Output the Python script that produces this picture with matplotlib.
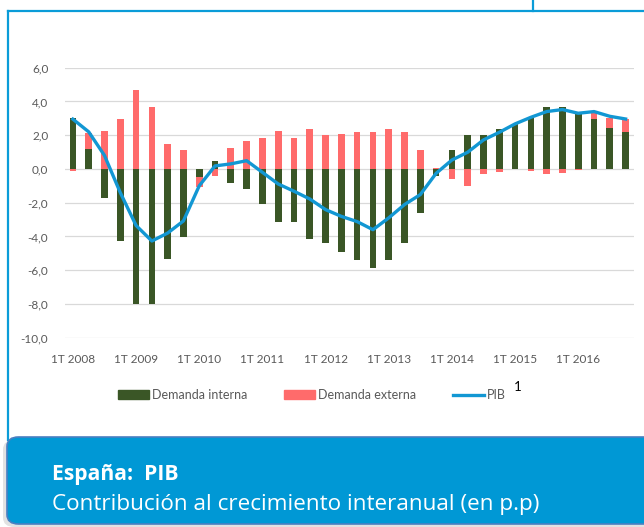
import matplotlib
matplotlib.use('Agg')
import matplotlib.pyplot as plt
import numpy as np
from matplotlib.patches import FancyBboxPatch, Patch
from matplotlib.lines import Line2D
from matplotlib.ticker import FuncFormatter

# Data (p.p.), quarterly 1T 2008 - 4T 2016
tick_labels = ['1T 2008', '1T 2009', '1T 2010', '1T 2011', '1T 2012',
               '1T 2013', '1T 2014', '1T 2015', '1T 2016']
demanda_interna = [3.0, 1.2, -1.75, -4.25, -8.0, -8.0, -5.35, -4.05, -0.45, 0.5, -0.85,
                   -1.2, -2.1, -3.15, -3.15, -4.15, -4.4, -4.9, -5.4, -5.85, -5.4, -4.4,
                   -2.6, -0.4, 1.1, 2.0, 2.0, 2.35, 2.65, 3.05, 3.7, 3.7, 3.35, 2.95,
                   2.45, 2.2]
demanda_externa = [-0.1, 0.95, 2.25, 2.95, 4.65, 3.7, 1.45, 1.1, -0.6, -0.4, 1.25,
                   1.65, 1.85, 2.25, 1.85, 2.35, 2.0, 2.05, 2.2, 2.2, 2.35, 2.2,
                   1.1, 0.05, -0.6, -1.0, -0.3, -0.2, 0.0, -0.1, -0.3, -0.25, -0.08,
                   0.38, 0.57, 0.75]
pib = [2.95, 2.2, 0.8, -1.4, -3.35, -4.27, -3.8, -3.08, -1.0, 0.18, 0.3,
       0.49, -0.2, -0.89, -1.32, -1.78, -2.41, -2.81, -3.12, -3.6, -2.9, -2.11,
       -1.52, -0.26, 0.53, 0.99, 1.72, 2.17, 2.67, 3.06, 3.4, 3.52, 3.3, 3.4,
       3.12, 2.96]

W, H = 644, 527
GREEN = '#3A5626'
PINK = '#FF6B6B'
BLUE_LINE = '#1297D3'
FRAME = '#0A9CD8'
PANEL = '#0098D5'
GREY_TXT = '#595959'


def fx(px):
    return px / W


def fy(py):
    return 1 - py / H


fig = plt.figure(figsize=(W / 100, H / 100), dpi=100)
fig.patch.set_facecolor('white')

ax = fig.add_axes([fx(65), fy(337.7), fx(633.5) - fx(65), fy(67.7) - fy(337.7)])

x = np.arange(len(pib))
di = np.array(demanda_interna)
de = np.array(demanda_externa)
# Excel-style stacking: external demand sits on top of internal if same sign
bottom_de = np.where(np.sign(di) == np.sign(de), di, 0)

ax.bar(x, di, width=0.42, color=GREEN, zorder=2)
ax.bar(x, de, width=0.42, bottom=bottom_de, color=PINK, zorder=2)
ax.plot(x, pib, color=BLUE_LINE, lw=2.4, zorder=3, solid_joinstyle='round')

ax.set_xlim(-0.5, len(pib) - 0.5)
ax.set_ylim(-10, 6)
ax.set_yticks(np.arange(-10, 7, 2))
ax.yaxis.set_major_formatter(FuncFormatter(lambda v, p: f'{v:.1f}'.replace('.', ',')))
ax.set_xticks(np.arange(0, len(pib), 4))
ax.set_xticklabels(tick_labels)
ax.grid(axis='y', color='#D9D9D9', lw=0.9, zorder=0)
ax.set_axisbelow(True)
for s in ax.spines.values():
    s.set_visible(False)
ax.tick_params(length=0, labelsize=8.5, labelcolor=GREY_TXT, labelfontfamily='Lato')
ax.tick_params(axis='y', pad=12)
ax.tick_params(axis='x', pad=12)

# Legend
handles = [Patch(color=GREEN, label='Demanda interna'),
           Patch(color=PINK, label='Demanda externa'),
           Line2D([], [], color=BLUE_LINE, lw=2.4, label='PIB')]
leg = fig.legend(handles=handles, loc='center', ncol=3, frameon=False,
                 bbox_to_anchor=(fx(312), fy(395)),
                 prop={'family': 'Lato', 'size': 9},
                 handlelength=2.5, handleheight=0.65, handletextpad=0.25,
                 columnspacing=2.9, labelcolor=GREY_TXT)
fig.text(fx(514), fy(387), '1', fontsize=9.5, color='black', family='Lato',
         ha='left', va='center')

# Frame lines
fig.add_artist(Line2D([fx(8), fx(W)], [fy(10.5), fy(10.5)], color=FRAME, lw=1.6))
fig.add_artist(Line2D([fx(8), fx(8)], [fy(10.5), fy(440)], color=FRAME, lw=1.6))
fig.add_artist(Line2D([fx(533), fx(533)], [fy(0), fy(10.5)], color=FRAME, lw=1.6))

# Title panel
shadow = FancyBboxPatch((fx(3), fy(527)), fx(660) - fx(3), fy(440) - fy(527),
                        boxstyle='round,pad=0,rounding_size=0.018',
                        transform=fig.transFigure, facecolor='#E2E2E2',
                        edgecolor='none', zorder=1)
panel = FancyBboxPatch((fx(7), fy(524)), fx(660) - fx(7), fy(437) - fy(524),
                       boxstyle='round,pad=0,rounding_size=0.018',
                       transform=fig.transFigure, facecolor=PANEL,
                       edgecolor='#4A7FC1', lw=1.2, zorder=2)
fig.add_artist(shadow)
fig.add_artist(panel)
fig.text(fx(52), fy(480), 'España:  PIB', color='white', fontsize=15.2,
         fontweight='bold', family='Open Sans', va='baseline', zorder=3)
fig.text(fx(52), fy(510), 'Contribución al crecimiento interanual (en p.p)',
         color='white', fontsize=16.2, family='Open Sans', va='baseline', zorder=3)

fig.savefig('out.png', dpi=100)
